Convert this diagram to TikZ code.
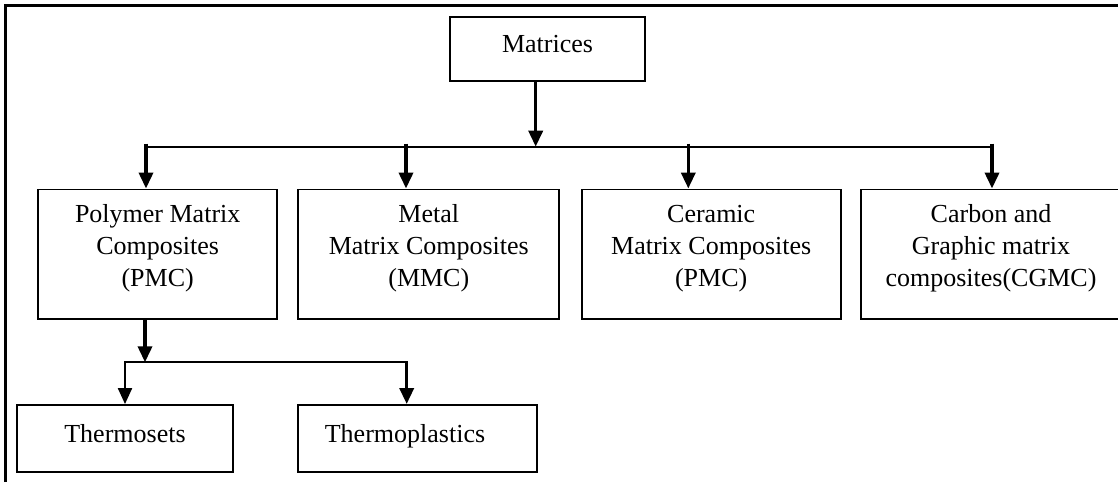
\documentclass[tikz,border=0pt]{standalone}
\usepackage{fontspec}
\setmainfont{Liberation Serif}
\usetikzlibrary{arrows.meta}
\newcommand\liftbox[2]{\raisebox{#1}[0pt][0pt]{#2}}
\newcommand\stackthree[1]{\smash{\begin{tabular}{@{}c@{}}#1\end{tabular}}}
\tikzset{
  box/.style={draw=black, line width=1.8pt, inner sep=0pt, rectangle,
    font=\fontsize{26}{32}\selectfont},
  stem/.style={line width=3.5pt, -{Triangle[width=14pt,length=16pt]}},
  thinstem/.style={line width=2.2pt, -{Triangle[width=14pt,length=16pt]}},
  hline/.style={line width=2pt},
  frame/.style={line width=2.5pt}
}
\begin{document}
\begin{tikzpicture}[x=1pt, y=-1pt]
\useasboundingbox (0,0) rectangle (1118,482);
\fill[white] (0,0) rectangle (1118,482);
% outer frame (left and top edges only)
\draw[frame] (5.5,482) -- (5.5,5.5) -- (1118,5.5);

% nodes
\node[box, minimum width=195pt, minimum height=64pt] (mat) at (547.5,48.7)
  {\liftbox{-4pt}{Matrices}};
\node[box, minimum width=238.7pt, minimum height=129.5pt] (pmc) at (157.7,254.2)
  {\stackthree{Polymer Matrix\\Composites\\(PMC)}};
\node[box, minimum width=261pt, minimum height=129.5pt] (mmc) at (428.8,254.2)
  {\stackthree{Metal\\Matrix Composites\\(MMC)}};
\node[box, minimum width=259pt, minimum height=129.5pt] (cmc) at (711.2,254.2)
  {\stackthree{Ceramic\\Matrix Composites\\(PMC)}};
\node[box, minimum width=260pt, minimum height=129.5pt] (cgmc) at (991,254.2)
  {\stackthree{Carbon and\\Graphic matrix\\composites(CGMC)}};
\node[box, minimum width=215.4pt, minimum height=66.7pt] (ths) at (125,438.3)
  {\liftbox{-4pt}{Thermosets}};
\node[box, minimum width=238.4pt, minimum height=66.7pt] (thp) at (417.5,438.3)
  {\liftbox{-4pt}{\hspace*{-25pt}Thermoplastics}};

% first-level connectors
\coordinate (j1) at (535.7,146.7);
\coordinate (b1) at (146,146.7);
\coordinate (b2) at (406,146.7);
\coordinate (b3) at (688.3,146.7);
\coordinate (b4) at (992,146.7);
\draw[stem] (mat.south -| j1) -- (j1);
\draw[hline] (b1) -- (b4);
\draw[stem] ([yshift=3pt]b1) -- (b1 |- pmc.north);
\draw[stem] ([yshift=3pt]b2) -- (b2 |- mmc.north);
\draw[stem] ([yshift=3pt]b3) -- (b3 |- cmc.north);
\draw[stem] ([yshift=3pt]b4) -- (b4 |- cgmc.north);

% second-level connectors
\coordinate (c1) at (145,362.3);
\coordinate (c2) at (125,362.3);
\coordinate (c3) at (406.7,362.3);
\draw[stem] (pmc.south -| c1) -- (c1);
\draw[hline] (c2) -- (c3);
\draw[thinstem] ([yshift=1pt]c2) -- (c2 |- ths.north);
\draw[stem] ([yshift=1pt]c3) -- (c3 |- thp.north);
\end{tikzpicture}
\end{document}
